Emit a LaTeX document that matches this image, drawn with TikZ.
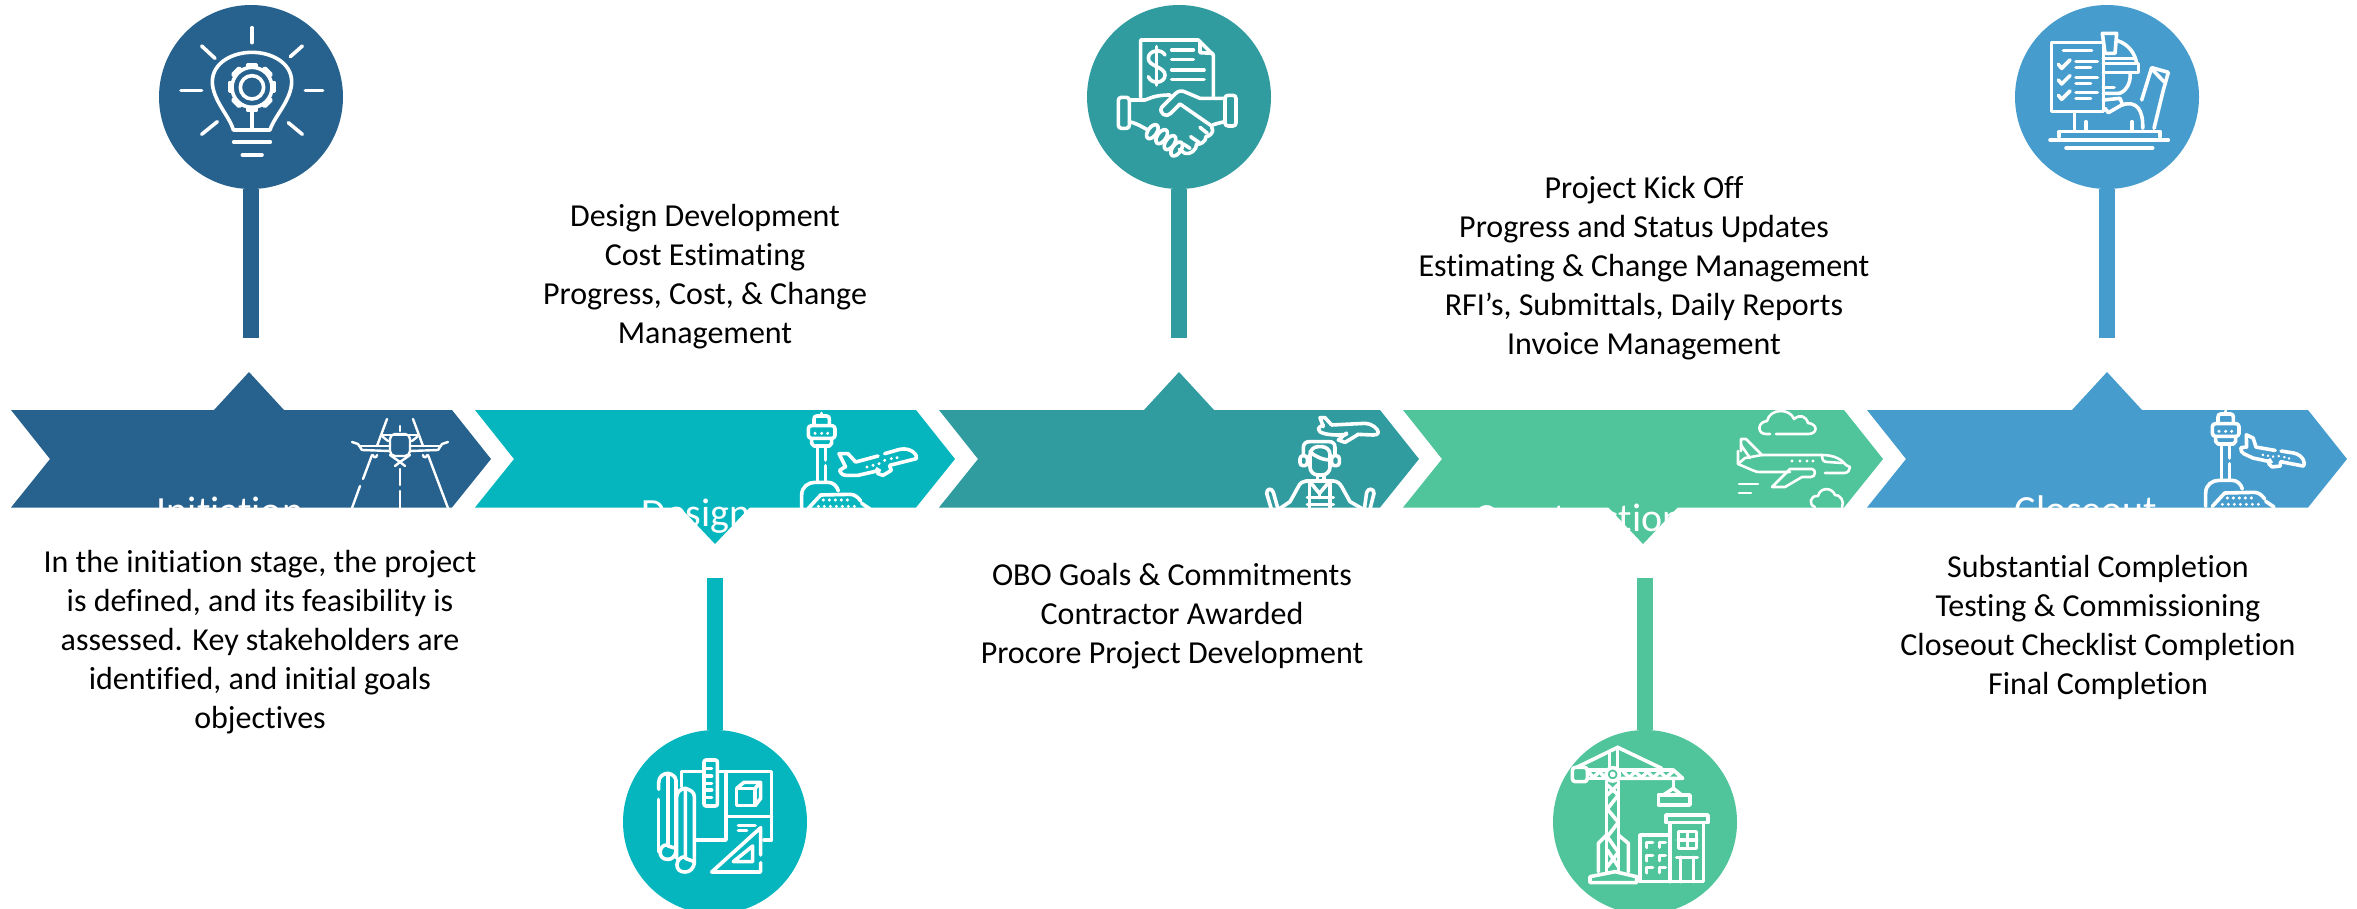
\documentclass[tikz,border=0pt]{standalone}
\usepackage{fontspec}
\setmainfont{Carlito}[RawFeature={-liga}]
\definecolor{cinit}{HTML}{27628E}
\definecolor{cdesign}{HTML}{06B6BE}
\definecolor{cprocure}{HTML}{319CA0}
\definecolor{cbuild}{HTML}{50C49A}
\definecolor{cclose}{HTML}{469CCD}
\tikzset{
    icon/.style={draw=white,line width=3.6pt,line cap=round,line join=round},
    dotfill/.style={fill=white,draw=none},
    iconat/.style={shift={#1},scale=1/3},
    bubble/.style={circle,inner sep=0pt,minimum size=184pt},
    stage/.style={white,anchor=base,font=\fontsize{40}{48}\selectfont},
    body/.style={align=center,anchor=north,inner sep=0pt,font=\fontsize{32}{39}\selectfont}
}
\newcommand{\planeicon}{
    \draw[icon](-97,15)--(-117,-25)--(-90,-25)--(-67,0)--(0,-18);
    \draw[icon](20,-25)--(65,-38)..controls(100,-45)and(120,-20)..(115,-10)--(35,10);
    \draw[icon](-100,15)--(-115,25)..controls(-112,35)and(-105,40)..(-95,40)--(-60,40)--(5,25);
    \draw[icon](-3,20)--(0,35)--(15,40)--(40,25)--(35,12);
    \foreach \p in {(-33,15),(-15,10),(3,5),(20,-5),(40,-10),(57,-13)}
    {
        \fill[dotfill]\p circle(5);
    }
}
\newcommand{\towericon}{
    \draw[icon](95,25)--(95,32);
    \draw[icon](72,58)--(72,42)..controls(72,36)and(75,33)..(80,33)--(110,33)..controls(115,33)and(118,36)..(118,42)--(118,58);
    \draw[icon,rounded corners=3pt](55,62)rectangle(135,100);
    \draw[icon](65,102)--(65,115)--(72,123)--(118,123)--(125,115)--(125,102);
    \draw[icon](82,123)--(82,232);
    \draw[icon](106,123)--(106,165);
    \draw[icon](106,182)--(106,232);
    \draw[icon](35,310)--(35,270)..controls(35,245)and(55,232)..(75,232)--(115,232)..controls(130,232)and(142,245)..(145,258);
    \draw[icon](55,310)--(92,270)--(180,268)..controls(195,268)and(205,278)..(212,288);
    \draw[icon](215,295)--(240,312);
    \foreach \q in {75,95,113}
    {
        \fill[dotfill](\q,85)circle(5);
    }
    \foreach \q in {100,118,136,154,172}
    {
        \fill[dotfill](\q,285)circle(5);
    }
    \foreach \q in {85,103,121,139,157,175,193}
    {
        \fill[dotfill](\q,304)circle(5);
    }
}
\begin{document}
\begin{tikzpicture}[x=1pt,y=-1pt]
    \useasboundingbox (0,0) rectangle (2357,908);

    \foreach \x/\col in {11/cinit,475/cdesign,939/cprocure,1403/cbuild,1867/cclose}
    {
        \fill[\col](\x,410)--(\x+441,410)--(\x+480,459)--(\x+441,507.5)--(\x,507.5)--(\x+39,459)--cycle;
    }
    \foreach \x/\col/\tip/\base in {249/cinit/372/410,1179/cprocure/372/410,2107/cclose/372/410,715/cdesign/544/507,1643/cbuild/544/507}
    {
        \fill[\col](\x-35,\base)--(\x,\tip)--(\x+35,\base)--cycle;
    }
    \foreach \n/\x/\y/\e/\col in {a/251/97/338/cinit,b/715/822/578/cdesign,c/1179/97/338/cprocure,d/1645/822/578/cbuild,e/2107/97/338/cclose}
    {
        \node[bubble,fill=\col](circ\n) at (\x,\y){};
        \coordinate (end\n) at (\x,\e);
        \draw[\col,line width=16pt](circ\n)--(end\n);
    }

    \node[stage](lblinit) at (230,524){Initiation};
    \node[stage](lbldesign) at (696,526){Design};
    \node[stage](lblbuild) at (1579,531){Construction};
    \node[stage](lblclose) at (2086,523){Closeout};

    \node[body](txtinit) at (260,550){In the initiation stage, the project\\is defined, and its feasibility is\\assessed. Key stakeholders are\\identified, and initial goals\\objectives};
    \node[body](txtdesign) at (705,204){Design Development\\Cost Estimating\\Progress, Cost, \& Change\\Management};
    \node[body](txtprocure) at (1172,563){OBO Goals \& Commitments\\Contractor Awarded\\Procore Project Development};
    \node[body](txtbuild) at (1644,176){Project Kick Off\\Progress and Status Updates\\Estimating \& Change Management\\RFI’s, Submittals, Daily Reports\\Invoice Management};
    \node[body](txtclose) at (2098,555){Substantial Completion\\Testing \& Commissioning\\Closeout Checklist Completion\\Final Completion};

    % bulb
    \begin{scope}[iconat={(165,10)}]
        \foreach \a/\b/\c/\d in {261/53/261/98,110/108/150/145,412/108/376/140,48/241/110/241,421/241/473/241,110/373/157/335,412/373/370/338,206/396/316/396,232/435/291/435}
        {
            \draw[icon](\a,\b)--(\c,\d);
        }
        \draw[icon](205,360)..controls(195,320)and(142,270)..(142,215)..controls(142,160)and(200,127)..(261,127)..controls(322,127)and(380,160)..(380,215)..controls(380,270)and(327,320)..(315,360)--cycle;
        \draw[icon](261,292)--(261,358);
        \draw[icon](261,232)circle(35);
        \draw[icon](261,232)circle(60);
        \foreach \a in {0,45,...,315}
        {
            \draw[icon,rotate around={\a:(261,232)}](248,172)--(248,164)--(274,164)--(274,172);
        }
    \end{scope}

    % runway
    \foreach \a/\b/\c/\d in {387/419/377/446,413/419/423/446,372/455/363/479,360/486/352/508,428/455/448/508,400/469/400/485,400/491/400/508,400/426/400/431,382/435/418/435}
    {
        \draw[icon,line width=2.4pt](\a,\b)--(\c,\d);
    }
    \draw[icon,line width=2.4pt,rounded corners=5pt](390,434)rectangle(410,456);
    \foreach \s in {1,-1}
    {
        \begin{scope}[xshift=400pt,xscale=\s]
            \draw[icon,line width=2.4pt](-48,442)--(-42,444)--(-38,450)--(-10,451);
            \draw[icon,line width=2.4pt](-41,446)--(-10,446);
            \draw[icon,line width=2.4pt](-17,437)--(-12,441);
            \draw[icon,line width=2.4pt](-27,455)..controls(-27,458)and(-23,458)..(-23,455);
            \draw[icon,line width=2.4pt](-10,455)--(0,462);
            \draw[icon,line width=2.4pt](-5,466)--(0,462);
        \end{scope}
    }

    % blueprint
    \begin{scope}[iconat={(640,740)}]
        \draw[icon](56,178)--(56,335);
        \draw[icon](56,148)--(56,128)..controls(56,108)and(72,100)..(84,100)--(84,315);
        \draw[icon](84,100)..controls(96,102)and(108,110)..(108,122)--(108,335);
        \draw[icon](84,315)..controls(55,310)and(50,360)..(84,358)..controls(95,358)and(105,350)..(108,335);
        \draw[icon](84,318)--(108,325);
        \draw[icon](110,355)--(110,170)..controls(110,155)and(125,145)..(136,145)--(136,350);
        \draw[icon](136,145)..controls(150,150)and(163,155)..(163,170)--(163,370);
        \draw[icon](136,350)..controls(105,350)and(100,398)..(136,396)..controls(150,396)and(160,385)..(163,370);
        \draw[icon](136,355)--(163,365);
        \draw[icon](125,140)--(125,95)--(190,95);
        \draw[icon](235,95)--(395,95)--(395,300)--(372,300);
        \draw[icon](258,95)--(258,300)--(168,300);
        \draw[icon](258,230)--(395,230);
        \draw[icon,rounded corners=2pt](192,60)rectangle(232,198);
        \foreach \y in {85,108,130,150,172}
        {
            \draw[icon](192,\y)--(215,\y);
        }
        \draw[icon](290,197)--(290,145)--(345,145)--(345,197)--cycle;
        \draw[icon](290,145)--(312,127)--(362,127)--(362,175)--(345,197);
        \draw[icon](345,145)--(362,127);
        \draw[icon](295,256)--(345,256);
        \draw[icon](295,272)--(320,272);
        \draw[icon](362,345)--(362,263)--(215,396)--(362,396)--(362,368);
        \draw[icon](280,365)--(338,318)--(338,365)--cycle;
    \end{scope}

    % tower and plane
    \begin{scope}[iconat={(790,405)}]
        \towericon
    \end{scope}
    \begin{scope}[shift={(878,462)},scale=1/3]
        \planeicon
    \end{scope}

    % handshake
    \begin{scope}[iconat={(1100,20)}]
        \draw[icon](122,232)--(122,60)--(295,60)--(340,105)--(340,232);
        \draw[icon](300,66)--(300,98)--(338,100);
        \draw[icon](195,105)..controls(185,85)and(145,90)..(145,115)..controls(145,140)and(195,140)..(195,165)..controls(195,190)and(155,195)..(145,170);
        \draw[icon](170,80)--(170,195);
        \foreach \a/\b in {215/90,215/118}
        {
            \draw[icon](\a,\b)--(\a+65,\b);
        }
        \draw[icon](215,150)--(312,150);
        \draw[icon](215,178)--(312,178);
        \draw[icon,rounded corners=3pt](55,232)rectangle(88,325);
        \draw[icon,rounded corners=3pt](375,226)rectangle(408,318);
        \draw[icon](88,240)--(135,240)..controls(150,235)and(165,225)..(210,225);
        \draw[icon](375,235)--(300,235)--(260,218)..controls(245,210)and(235,212)..(225,222)--(185,262)..controls(175,280)and(200,295)..(212,280)--(240,252)--(335,318);
        \draw[icon](88,305)..controls(110,310)and(125,320)..(140,328);
        \draw[icon](375,305)..controls(360,308)and(345,312)..(338,315);
        \foreach \a/\b in {157/335,185/350,210/368,230/387}
        {
            \draw[icon](\a,\b)ellipse[x radius=13,y radius=24,rotate=-35];
        }
        \draw[icon](335,322)..controls(345,340)and(325,350)..(318,350)..controls(318,365)and(300,375)..(290,372)..controls(290,390)and(270,405)..(255,400)--(238,388);
        \draw[icon](300,322)--(322,340);
        \draw[icon](272,350)--(298,368);
        \draw[icon](250,372)--(270,385);
    \end{scope}

    % controller
    \begin{scope}[iconat={(1250,405)}]
        \draw[icon](220,65)--(210,38)--(225,38)--(245,60);
        \draw[icon](245,60)--(345,55)..controls(365,55)and(385,72)..(385,82)..controls(385,88)and(378,90)..(370,90)--(322,88);
        \draw[icon](220,60)..controls(210,65)and(205,68)..(205,72)..controls(205,85)and(235,90)..(265,90)--(290,88);
        \draw[icon](290,84)--(265,105)--(285,112)--(325,88);
        \draw[icon](160,152)--(160,128)..controls(160,116)and(168,110)..(178,110)--(238,110)..controls(248,110)and(255,116)..(255,128)--(255,152);
        \draw[icon,rounded corners=3pt](150,152)rectangle(172,182);
        \draw[icon,rounded corners=3pt](245,152)rectangle(268,182);
        \draw[icon,rounded corners=8pt](180,125)--(180,210)--(240,210)--(240,125)--cycle;
        \draw[icon](180,140)..controls(195,155)and(220,165)..(240,165);
        \draw[icon](203,210)--(203,226);
        \draw[icon](222,210)--(222,226);
        \draw[icon](90,310)--(120,290)--(145,245)..controls(150,235)and(158,228)..(168,228)--(250,228)..controls(260,228)and(270,235)..(275,245)--(300,290)--(335,310);
        \draw[icon](178,228)--(208,265)--(240,228);
        \draw[icon](178,228)--(178,312);
        \draw[icon](240,228)--(240,312);
        \draw[icon](208,265)--(208,278);
        \draw[icon](172,278)--(250,278);
        \draw[icon](172,298)--(250,298);
        \draw[icon](64,312)--(50,265)..controls(50,250)and(65,248)..(70,262)--(84,312);
        \draw[icon](343,312)--(350,262)..controls(355,248)and(372,250)..(372,265)--(360,312);
    \end{scope}

    % crane
    \begin{scope}[iconat={(1560,735)}]
        \draw[icon,rounded corners=3pt](37,97)rectangle(82,140);
        \draw[icon](82,105)--(138,105);
        \draw[icon](178,105)--(340,105)--(368,130)--(178,130);
        \draw[icon](82,130)--(138,130);
        \draw[icon](85,110)--(100,128)--(118,110)--(135,128);
        \draw[icon](190,110)--(208,128)--(225,110)--(245,128)--(262,110)--(280,128)--(300,110)--(318,128)--(338,110);
        \draw[icon](158,118)circle(20);
        \draw[icon](158,118)circle(4);
        \draw[icon](140,138)--(140,305);
        \draw[icon](175,138)--(175,305);
        \draw[icon](50,97)--(173,37)--(305,100);
        \draw[icon](148,52)--(148,98);
        \draw[icon](173,37)--(173,98);
        \draw[icon](142,150)--(175,180)--(142,222)--(175,262)--(142,305)--(175,352)--(142,395);
        \draw[icon](142,180)--(175,148);
        \draw[icon](142,345)--(175,395);
        \draw[icon](140,300)--(115,325)--(115,410);
        \draw[icon](175,300)--(205,325)--(205,410);
        \draw[icon](140,300)--(140,410);
        \draw[icon](175,300)--(175,410);
        \draw[icon](90,443)--(90,425)--(165,410)--(230,425)--(230,443)--cycle;
        \draw[icon](340,130)--(340,160);
        \draw[icon](310,180)--(340,160)--(365,180);
        \draw[icon](295,180)rectangle(390,210);
        \draw[icon](318,240)rectangle(444,263);
        \draw[icon](330,263)--(330,440);
        \draw[icon](430,263)--(430,440)--(240,440)--(240,300)--(330,300);
        \draw[icon](355,290)rectangle(410,340);
        \draw[icon](382,290)--(382,340);
        \draw[icon](355,315)--(410,315);
        \draw[icon](350,367)--(412,367);
        \draw[icon](362,367)--(362,440);
        \draw[icon](400,367)--(400,440);
        \foreach \a in {260,298}
        {
            \foreach \b in {322,362,398}
            {
                \draw[icon](\a,\b+15)--(\a,\b)--(\a+18,\b);
            }
        }
    \end{scope}

    % plane and clouds
    \draw[icon,line width=2.6pt](1776,434)--(1808,434)..controls(1818,434)and(1818,424)..(1808,423)..controls(1806,416)and(1800,414)..(1794,419)..controls(1790,408)and(1770,408)..(1767,421)..controls(1757,422)and(1757,434)..(1766,434)--(1770,434);
    \draw[icon,line width=2.6pt](1741,451)--(1741,439)--(1746,439)--(1762,455)--(1822,455)..controls(1835,455)and(1842,460)..(1846,465)--(1850,467)..controls(1850,470)and(1848,473)..(1844,473)--(1825,473);
    \draw[icon,line width=2.6pt](1822,455)..controls(1822,461)and(1824,462)..(1828,462)--(1842,463);
    \draw[icon,line width=2.6pt](1738,451)--(1738,464)--(1752,470)..controls(1755,472)and(1758,472)..(1762,472)--(1790,472);
    \draw[icon,line width=2.6pt](1738,464)--(1745,458)--(1762,455);
    \draw[icon,line width=2.6pt](1741,445)--(1750,458);
    \draw[icon,line width=2.6pt](1772,487)--(1790,469)--(1812,469)..controls(1816,469)and(1816,477)..(1811,477)--(1802,477)--(1785,487)--cycle;
    \foreach \p in {1792,1800,1807,1813}
    {
        \fill[dotfill](\p,461)circle(1.6);
    }
    \draw[icon,line width=2.6pt](1739,484)--(1758,484);
    \draw[icon,line width=2.6pt](1739,493)--(1751,493);
    \draw[icon,line width=2.6pt](1815,507)..controls(1808,505)and(1810,495)..(1818,496)..controls(1820,487)and(1832,487)..(1835,495)..controls(1840,494)and(1845,502)..(1842,507);

    % checklist
    \begin{scope}[iconat={(2040,20)}]
        \draw[icon](34,68)rectangle(190,275);
        \draw[icon](70,92)--(155,92);
        \foreach \y in {0,47,93}
        {
            \draw[icon](55,133+\y)--(65,145+\y)--(90,120+\y);
            \draw[icon](108,125+\y)--(172,125+\y);
            \draw[icon](108,143+\y)--(152,143+\y);
        }
        \draw[icon](187,40)--(230,40)--(225,100)--(195,100)--cycle;
        \draw[icon](232,62)..controls(265,72)and(285,100)..(290,130);
        \draw[icon](190,130)--(295,130)--(295,157)--(190,157);
        \draw[icon](190,115)--(285,115);
        \draw[icon](270,157)..controls(275,195)and(250,220)..(235,220)--(190,220);
        \draw[icon](190,202)--(222,202);
        \draw[icon](190,240)--(240,235)--(248,255);
        \draw[icon](195,265)--(205,278)--(245,255)..controls(290,240)and(310,270)..(308,325);
        \draw[icon](103,280)--(103,332);
        \draw[icon](138,305)--(138,332);
        \draw[icon](276,305)--(276,332);
        \draw[icon](305,240)--(335,143)--(385,157)--(370,210)--(342,325);
        \draw[icon](338,150)--(372,185);
        \draw[icon](57,350)--(57,335)--(360,335)--(360,350);
        \draw[icon](30,360)--(385,360);
        \draw[icon](78,384)--(338,384);
    \end{scope}

    % second tower and plane
    \begin{scope}[iconat={(2194,403)}]
        \towericon
    \end{scope}
    \begin{scope}[shift={(2273,455)},scale=.28,rotate=-25]
        \planeicon
    \end{scope}
\end{tikzpicture}
\end{document}
